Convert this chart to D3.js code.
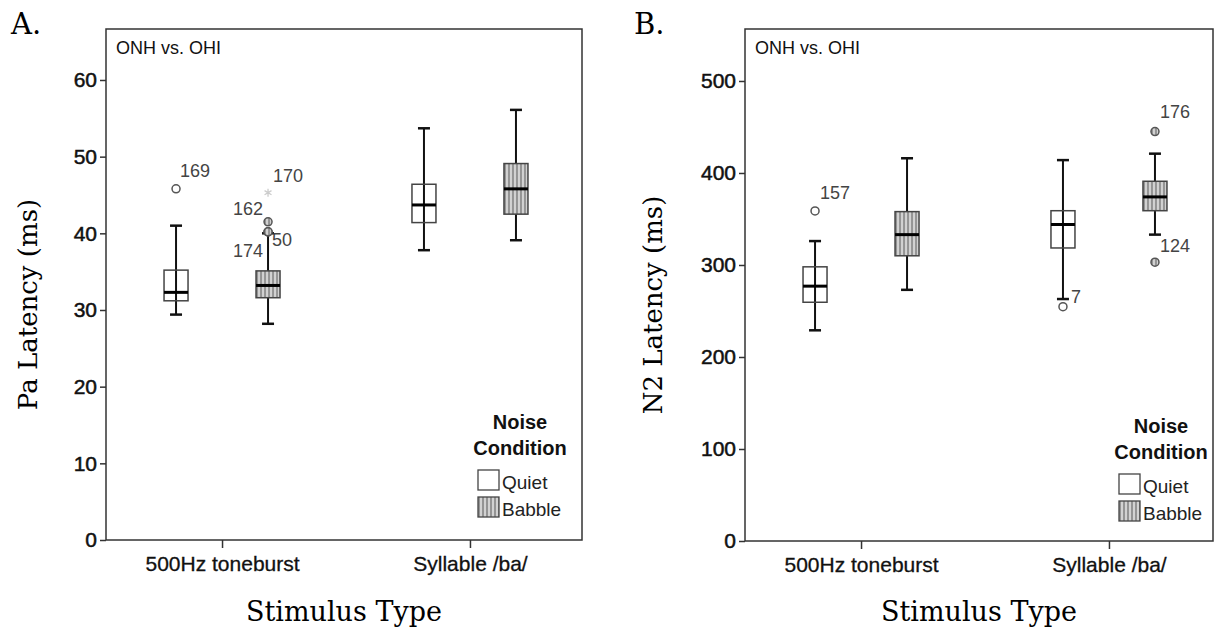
<!DOCTYPE html>
<html>
<head>
<meta charset="utf-8">
<script src="https://cdn.jsdelivr.net/npm/d3@7"></script>
<style>
  body { margin: 0; background: #fff; }
  svg { display: block; }
  text { font-family: "Liberation Sans", Arial, sans-serif; }
</style>
</head>
<body>
<svg></svg>
<script>
// stimulus categories and noise conditions
let categories = ["500Hz toneburst", "Syllable /ba/"]
let conditions = ["Quiet", "Babble"]

let paTicks = [0, 10, 20, 30, 40, 50, 60]
let n2Ticks = [0, 100, 200, 300, 400, 500]

// each row: [lower whisker, Q1, median, Q3, upper whisker], one row per stimulus
let paQuiet = [[29.4, 31.2, 32.3, 35.2, 41.0], [37.8, 41.4, 43.7, 46.4, 53.7]]
let paBabble = [[28.2, 31.6, 33.2, 35.1, 40.0], [39.1, 42.5, 45.8, 49.1, 56.1]]
let paOutliers = [
    { stim: 0, cond: "Quiet", value: 45.8, id: "169", mark: "circle" },
    { stim: 0, cond: "Babble", value: 45.3, id: "170", mark: "star" },
    { stim: 0, cond: "Babble", value: 41.5, id: "162", mark: "circle" },
    { stim: 0, cond: "Babble", value: 40.2, id: "174", mark: "circle" },
    { stim: 0, cond: "Babble", value: 40.2, id: "50", mark: "circle" }
]

let n2Quiet = [[229, 259.5, 277, 298, 326], [263, 318.5, 344, 359, 414]]
let n2Babble = [[273, 310, 333, 358, 416], [333, 359, 374, 391, 421]]
let n2Outliers = [
    { stim: 0, cond: "Quiet", value: 358.7, id: "157", mark: "circle" },
    { stim: 1, cond: "Quiet", value: 254.7, id: "7", mark: "circle" },
    { stim: 1, cond: "Babble", value: 445, id: "176", mark: "circle" },
    { stim: 1, cond: "Babble", value: 303, id: "124", mark: "circle" }
]

// where each outlier's case number sits relative to its mark
let labelPlace = {
    "169": [4, -12, "start"], "170": [5, -11, "start"], "162": [-5, -7, "end"],
    "174": [-5, 25, "end"], "50": [4, 14, "start"],
    "157": [5, -12, "start"], "7": [8, -4, "start"], "176": [5, -14, "start"], "124": [5, -10, "start"]
}

let width = 1215
let height = 628

let svg = d3.select("svg")
svg.attr("width", width).attr("height", height)

let defs = svg.append("defs")
let pat = defs.append("pattern")
    .attr("id", "hatch")
    .attr("patternUnits", "userSpaceOnUse")
    .attr("width", 4)
    .attr("height", 4)
pat.append("rect").attr("width", 4).attr("height", 4).attr("fill", "#d2d2d2")
pat.append("line").attr("x1", 1).attr("x2", 1).attr("y1", 0).attr("y2", 4)
    .attr("stroke", "#6a6a6a").attr("stroke-width", 1.2)

let fillFor = c => c == "Babble" ? "url(#hatch)" : "#fff"

let drawPanel = (p) => {
    let g = svg.append("g")

    let yScale = d3.scaleLinear()
        .domain([0, p.yMax])
        .range([p.bottom, p.top])

    let xScale = d3.scalePoint()
        .domain(categories)
        .range([p.left, p.left + 480])
        .padding(0.468)

    let offset = d3.scalePoint()
        .domain(conditions)
        .range([-46, 46])

    let boxW = 24
    let capW = 12

    // frame
    g.append("rect")
        .attr("x", p.left).attr("y", p.top)
        .attr("width", p.right - p.left).attr("height", p.bottom - p.top)
        .attr("fill", "none").attr("stroke", "#333").attr("stroke-width", 1.5)

    // axes
    let yAxis = d3.axisLeft(yScale).tickValues(p.ticks).tickSize(6).tickPadding(3)
    let ya = g.append("g")
        .attr("transform", "translate(" + p.left + ",0)")
        .call(yAxis)
    ya.select(".domain").remove()
    ya.selectAll("line").attr("stroke", "#333").attr("stroke-width", 1.5)
    ya.selectAll("text").attr("font-size", 21).attr("fill", "#111")
        .attr("stroke", "#111").attr("stroke-width", 0.5)
        .style("font-family", "'Liberation Sans', Arial, sans-serif")

    let xAxis = d3.axisBottom(xScale).tickSize(8).tickPadding(8)
    let xa = g.append("g")
        .attr("transform", "translate(0," + p.bottom + ")")
        .call(xAxis)
    xa.select(".domain").remove()
    xa.selectAll("line").attr("stroke", "#333").attr("stroke-width", 1.5)
    xa.selectAll("text").attr("font-size", 21).attr("fill", "#111")
        .attr("stroke", "#111").attr("stroke-width", 0.3)
        .style("font-family", "'Liberation Sans', Arial, sans-serif")

    // axis titles
    g.append("text")
        .attr("transform", "translate(" + p.titleX + "," + ((p.top + p.bottom) / 2 + 20) + ") rotate(-90)")
        .attr("text-anchor", "middle")
        .attr("dominant-baseline", "middle")
        .style("font-family", "'DejaVu Serif', serif")
        .attr("font-size", 26)
        .text(p.yTitle)

    g.append("text")
        .attr("x", (p.left + p.right) / 2)
        .attr("y", 621)
        .attr("text-anchor", "middle")
        .style("font-family", "'DejaVu Serif', serif")
        .attr("font-size", 27)
        .text("Stimulus Type")

    g.append("text")
        .attr("x", p.letterX).attr("y", 34)
        .style("font-family", "'DejaVu Serif', serif")
        .attr("font-size", 29)
        .text(p.letter)

    g.append("text")
        .attr("x", p.left + 10).attr("y", 54)
        .attr("font-size", 18)
        .attr("fill", "#111")
        .text("ONH vs. OHI")

    // boxes
    let rows = []
    categories.forEach((c, i) => {
        rows.push({ stim: c, cond: "Quiet", s: p.quiet[i] })
        rows.push({ stim: c, cond: "Babble", s: p.babble[i] })
    })

    let boxes = g.selectAll(".box")
        .data(rows)
        .enter()
        .append("g")
        .attr("class", "box")
        .attr("transform", d => "translate(" + (xScale(d.stim) + offset(d.cond)) + ",0)")

    boxes.append("line")
        .attr("x1", 0).attr("x2", 0)
        .attr("y1", d => yScale(d.s[0])).attr("y2", d => yScale(d.s[4]))
        .attr("stroke", "#111").attr("stroke-width", 2)
    boxes.append("line")
        .attr("x1", -capW / 2).attr("x2", capW / 2)
        .attr("y1", d => yScale(d.s[4])).attr("y2", d => yScale(d.s[4]))
        .attr("stroke", "#111").attr("stroke-width", 2.5)
    boxes.append("line")
        .attr("x1", -capW / 2).attr("x2", capW / 2)
        .attr("y1", d => yScale(d.s[0])).attr("y2", d => yScale(d.s[0]))
        .attr("stroke", "#111").attr("stroke-width", 2.5)
    boxes.append("rect")
        .attr("x", -boxW / 2).attr("width", boxW)
        .attr("y", d => yScale(d.s[3]))
        .attr("height", d => yScale(d.s[1]) - yScale(d.s[3]))
        .attr("fill", d => fillFor(d.cond))
        .attr("fill-opacity", d => d.cond == "Quiet" ? 0 : 1)
        .attr("stroke", "#444").attr("stroke-width", 1.5)
    boxes.append("line")
        .attr("x1", -boxW / 2).attr("x2", boxW / 2)
        .attr("y1", d => yScale(d.s[2])).attr("y2", d => yScale(d.s[2]))
        .attr("stroke", "#000").attr("stroke-width", 3)

    // outliers
    let outs = g.selectAll(".out")
        .data(p.outliers)
        .enter()
        .append("g")
        .attr("class", "out")
        .attr("transform", d => "translate(" + (xScale(categories[d.stim]) + offset(d.cond)) + "," + yScale(d.value) + ")")

    outs.filter(d => d.mark == "circle")
        .append("circle")
        .attr("r", 4)
        .attr("fill", d => d.cond == "Babble" ? "url(#hatch)" : "#fff")
        .attr("stroke", "#555").attr("stroke-width", 1.5)

    outs.filter(d => d.mark == "star")
        .append("path")
        .attr("d", d3.symbol().type(d3.symbolAsterisk).size(45))
        .attr("fill", "none").attr("stroke", "#ccc").attr("stroke-width", 1.3)

    outs.append("text")
        .attr("x", d => labelPlace[d.id][0])
        .attr("y", d => labelPlace[d.id][1])
        .attr("text-anchor", d => labelPlace[d.id][2])
        .attr("font-size", 18)
        .attr("fill", "#444")
        .text(d => d.id)

    // legend
    let lg = g.append("g")
    lg.append("text").attr("x", p.legendX).attr("y", p.legendY)
        .attr("text-anchor", "middle").attr("font-size", 20).attr("font-weight", "bold")
        .attr("fill", "#111").text("Noise")
    lg.append("text").attr("x", p.legendX).attr("y", p.legendY + 26)
        .attr("text-anchor", "middle").attr("font-size", 20).attr("font-weight", "bold")
        .attr("fill", "#111").text("Condition")

    let items = lg.selectAll(".item")
        .data(conditions)
        .enter()
        .append("g")
        .attr("class", "item")
        .attr("transform", (d, i) => "translate(" + (p.legendX - 42) + "," + (p.legendY + 41 + i * 27) + ")")
    items.append("rect")
        .attr("width", 21).attr("height", 20)
        .attr("fill", d => fillFor(d))
        .attr("stroke", "#444").attr("stroke-width", 1.3)
    items.append("text")
        .attr("x", 24).attr("y", 19)
        .attr("font-size", 19).attr("fill", "#222")
        .text(d => d)
}

drawPanel({
    left: 106, right: 582, top: 29, bottom: 540, yMax: 66.65,
    ticks: paTicks, quiet: paQuiet, babble: paBabble, outliers: paOutliers,
    yTitle: "Pa Latency (ms)", titleX: 30, letter: "A.", letterX: 11,
    legendX: 520, legendY: 429
})

drawPanel({
    left: 745, right: 1213, top: 29, bottom: 541, yMax: 556.5,
    ticks: n2Ticks, quiet: n2Quiet, babble: n2Babble, outliers: n2Outliers,
    yTitle: "N2 Latency (ms)", titleX: 655, letter: "B.", letterX: 634,
    legendX: 1161, legendY: 433
})
</script>
</body>
</html>
